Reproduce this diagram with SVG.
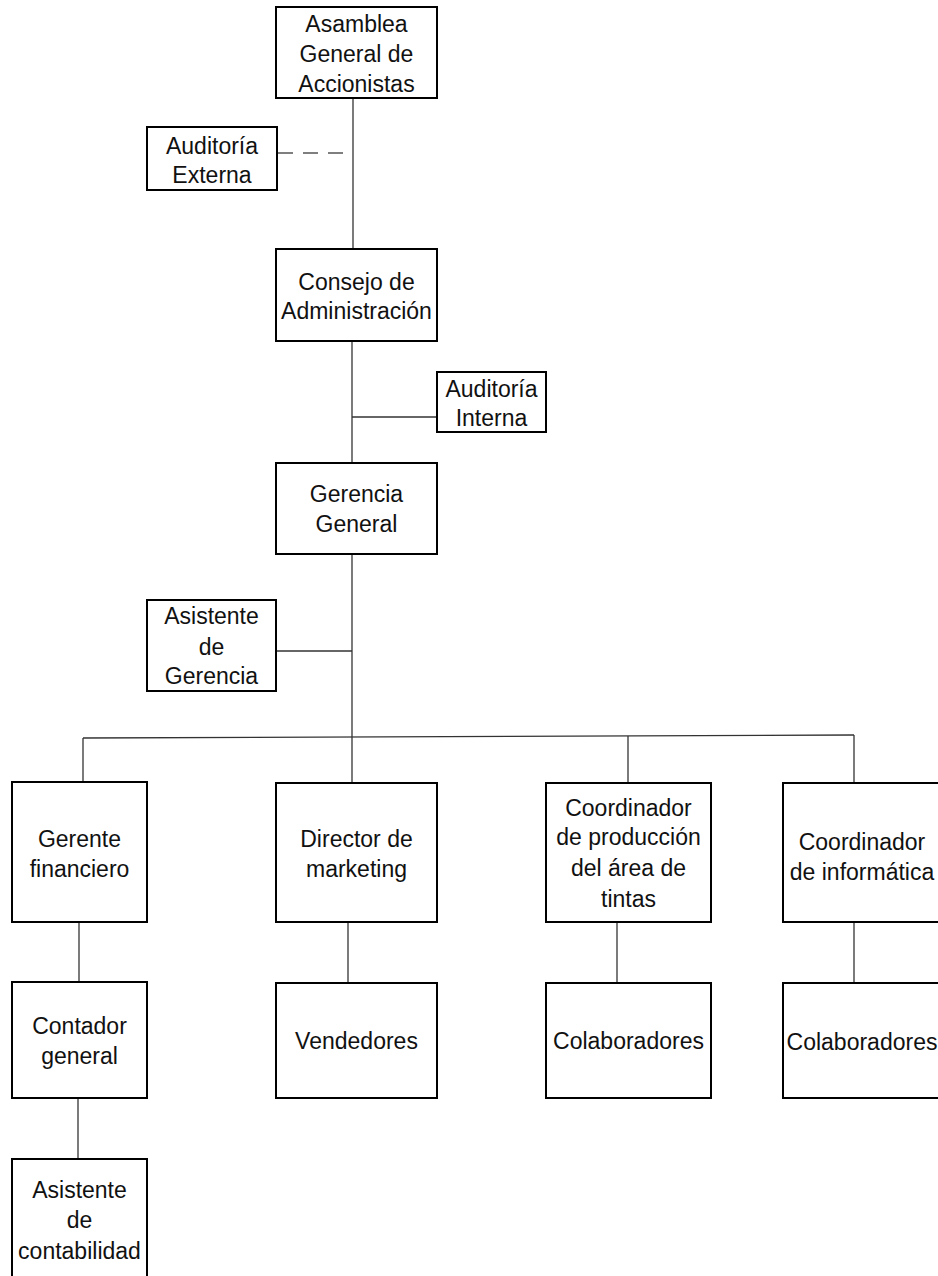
<svg xmlns="http://www.w3.org/2000/svg" width="938" height="1276" viewBox="0 0 938 1276">
<style>
.box{fill:#fff;stroke:#000;stroke-width:2}
.lbl{font-family:"Liberation Sans",Arial,sans-serif;font-size:23px;fill:#111;text-anchor:middle}
.ln{stroke:#333;stroke-width:1.3;fill:none}
.dash{stroke:#555;stroke-width:1.3;fill:none;stroke-dasharray:15 10}
</style>
<rect width="938" height="1276" fill="#fff"/>
<g id="connectors">
<line class="ln" x1="353" y1="98" x2="353" y2="249"/>
<line class="dash" x1="278" y1="153" x2="344" y2="153"/>
<line class="ln" x1="352" y1="341" x2="352" y2="463"/>
<line class="ln" x1="352" y1="417" x2="437" y2="417"/>
<line class="ln" x1="352" y1="554" x2="352" y2="783"/>
<line class="ln" x1="276" y1="651" x2="352" y2="651"/>
<line class="ln" x1="83" y1="738" x2="854" y2="735"/>
<line class="ln" x1="83" y1="738" x2="83" y2="782"/>
<line class="ln" x1="628" y1="736" x2="628" y2="782"/>
<line class="ln" x1="854" y1="735" x2="854" y2="782"/>
<line class="ln" x1="79" y1="922" x2="79" y2="982"/>
<line class="ln" x1="348" y1="922" x2="348" y2="983"/>
<line class="ln" x1="617" y1="922" x2="617" y2="983"/>
<line class="ln" x1="854" y1="922" x2="854" y2="983"/>
<line class="ln" x1="78" y1="1098" x2="78" y2="1159"/>
</g>
<g id="asamblea">
<rect class="box" x="276" y="7" width="161" height="91"/>
<text class="lbl" x="356.5" y="32">Asamblea</text>
<text class="lbl" x="356.5" y="62">General de</text>
<text class="lbl" x="356.5" y="92">Accionistas</text>
</g>
<g id="auditoria-externa">
<rect class="box" x="147" y="127" width="130" height="63"/>
<text class="lbl" x="212" y="154">Auditoría</text>
<text class="lbl" x="212" y="183">Externa</text>
</g>
<g id="consejo">
<rect class="box" x="276" y="249" width="161" height="92"/>
<text class="lbl" x="356.5" y="290">Consejo de</text>
<text class="lbl" x="356.5" y="319">Administración</text>
</g>
<g id="auditoria-interna">
<rect class="box" x="437" y="372" width="109" height="60"/>
<text class="lbl" x="491.5" y="397">Auditoría</text>
<text class="lbl" x="491.5" y="426">Interna</text>
</g>
<g id="gerencia-general">
<rect class="box" x="276" y="463" width="161" height="91"/>
<text class="lbl" x="356.5" y="502">Gerencia</text>
<text class="lbl" x="356.5" y="532">General</text>
</g>
<g id="asistente-gerencia">
<rect class="box" x="147" y="600" width="129" height="91"/>
<text class="lbl" x="211.5" y="624">Asistente</text>
<text class="lbl" x="211.5" y="655">de</text>
<text class="lbl" x="211.5" y="684">Gerencia</text>
</g>
<g id="gerente-financiero">
<rect class="box" x="12" y="782" width="135" height="140"/>
<text class="lbl" x="79.5" y="847">Gerente</text>
<text class="lbl" x="79.5" y="877">financiero</text>
</g>
<g id="director-marketing">
<rect class="box" x="276" y="783" width="161" height="139"/>
<text class="lbl" x="356.5" y="847">Director de</text>
<text class="lbl" x="356.5" y="877">marketing</text>
</g>
<g id="coordinador-produccion">
<rect class="box" x="546" y="783" width="165" height="139"/>
<text class="lbl" x="628.5" y="816">Coordinador</text>
<text class="lbl" x="628.5" y="845">de producción</text>
<text class="lbl" x="628.5" y="876">del área de</text>
<text class="lbl" x="628.5" y="907">tintas</text>
</g>
<g id="coordinador-informatica">
<rect class="box" x="783" y="783" width="158" height="139"/>
<text class="lbl" x="862" y="850">Coordinador</text>
<text class="lbl" x="862" y="880">de informática</text>
</g>
<g id="contador-general">
<rect class="box" x="12" y="982" width="135" height="116"/>
<text class="lbl" x="79.5" y="1034">Contador</text>
<text class="lbl" x="79.5" y="1064">general</text>
</g>
<g id="vendedores">
<rect class="box" x="276" y="983" width="161" height="115"/>
<text class="lbl" x="356.5" y="1049">Vendedores</text>
</g>
<g id="colaboradores-produccion">
<rect class="box" x="546" y="983" width="165" height="115"/>
<text class="lbl" x="628.5" y="1049">Colaboradores</text>
</g>
<g id="colaboradores-informatica">
<rect class="box" x="783" y="983" width="158" height="115"/>
<text class="lbl" x="862" y="1050">Colaboradores</text>
</g>
<g id="asistente-contabilidad">
<rect class="box" x="12" y="1159" width="135" height="130"/>
<text class="lbl" x="79.5" y="1198">Asistente</text>
<text class="lbl" x="79.5" y="1228">de</text>
<text class="lbl" x="79.5" y="1259">contabilidad</text>
</g>
</svg>
